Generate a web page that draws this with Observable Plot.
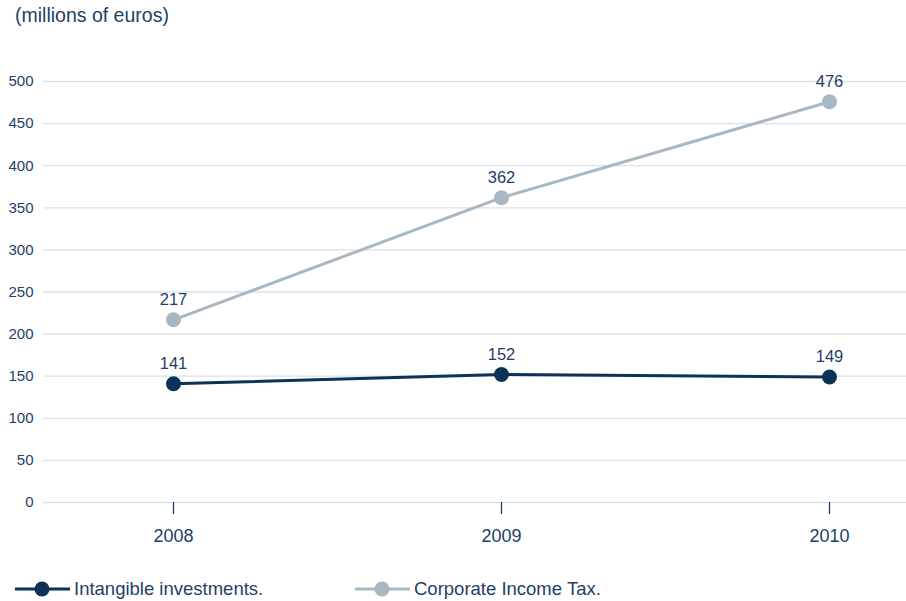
<!DOCTYPE html>
<html>
<head>
<meta charset="utf-8">
<script src="https://cdn.jsdelivr.net/npm/d3@7"></script>
<script src="https://cdn.jsdelivr.net/npm/@observablehq/plot@0.6"></script>
<style>
  body { margin: 0; background: #fff; font-family: "Liberation Sans", Arial, sans-serif; }
  #wrap { position: relative; width: 906px; height: 601px; overflow: hidden; }
  #title { position: absolute; left: 15px; top: 4px; font-size: 19.5px; color: #1e4166; }
  #chart { position: absolute; left: 0; top: 40px; }
  .leg { position: absolute; top: 578px; height: 22px; display: flex; align-items: center; font-size: 18.5px; color: #1e4166; }
  .leg svg { margin-right: 4px; }
</style>
</head>
<body>
<div id="wrap">
  <div id="title">(millions of euros)</div>
  <div id="chart"></div>
  <div id="legend"></div>
</div>
<script>
const years = ["2008", "2009", "2010"];
const seriesNames = ["Intangible investments.", "Corporate Income Tax."];
const intangible = [141, 152, 149];
const corporateTax = [217, 362, 476];
const yTicks = [0, 50, 100, 150, 200, 250, 300, 350, 400, 450, 500];
const seriesColors = ["#0d3257", "#a7b8c3"];
const textColor = "#1e4166";

const data = [];
years.forEach((y, i) => {
  data.push({year: y, value: intangible[i], series: seriesNames[0]});
  data.push({year: y, value: corporateTax[i], series: seriesNames[1]});
});

const chart = Plot.plot({
  width: 906,
  height: 520,
  marginTop: 41,
  marginBottom: 58,
  marginLeft: 43,
  marginRight: 0,
  style: {fontFamily: "'Liberation Sans', Arial, sans-serif", color: textColor, background: "transparent"},
  x: {type: "point", domain: years, range: [173, 829], padding: 0},
  y: {domain: [0, 500]},
  color: {domain: seriesNames, range: seriesColors},
  marks: [
    Plot.gridY(yTicks, {stroke: "#d9e1e8", strokeOpacity: 1, strokeWidth: 1.3}),
    Plot.axisY(yTicks, {tickSize: 0, tickPadding: 10, fontSize: 15, label: null, fill: textColor}),
    Plot.axisX({tickSize: 12, tickPadding: 15, fontSize: 18, label: null, stroke: textColor, fill: textColor, strokeWidth: 1.3}),
    Plot.line(data, {x: "year", y: "value", z: "series", stroke: "series", strokeWidth: 3}),
    Plot.dot(data, {x: "year", y: "value", fill: "series", r: 7.5}),
    Plot.text(data, {x: "year", y: "value", text: d => String(d.value), dy: -20, fontSize: 16.5, fill: textColor})
  ]
});
document.getElementById("chart").appendChild(chart);

// Legend
const legend = document.getElementById("legend");
const legPos = [15, 355];
seriesNames.forEach((name, i) => {
  const div = document.createElement("div");
  div.className = "leg";
  div.style.left = legPos[i] + "px";
  div.innerHTML = `<svg width="55" height="20"><line x1="0" x2="55" y1="10" y2="10" stroke="${seriesColors[i]}" stroke-width="3"/><circle cx="27" cy="10" r="7.5" fill="${seriesColors[i]}"/></svg><span>${name}</span>`;
  legend.appendChild(div);
});
</script>
</body>
</html>
